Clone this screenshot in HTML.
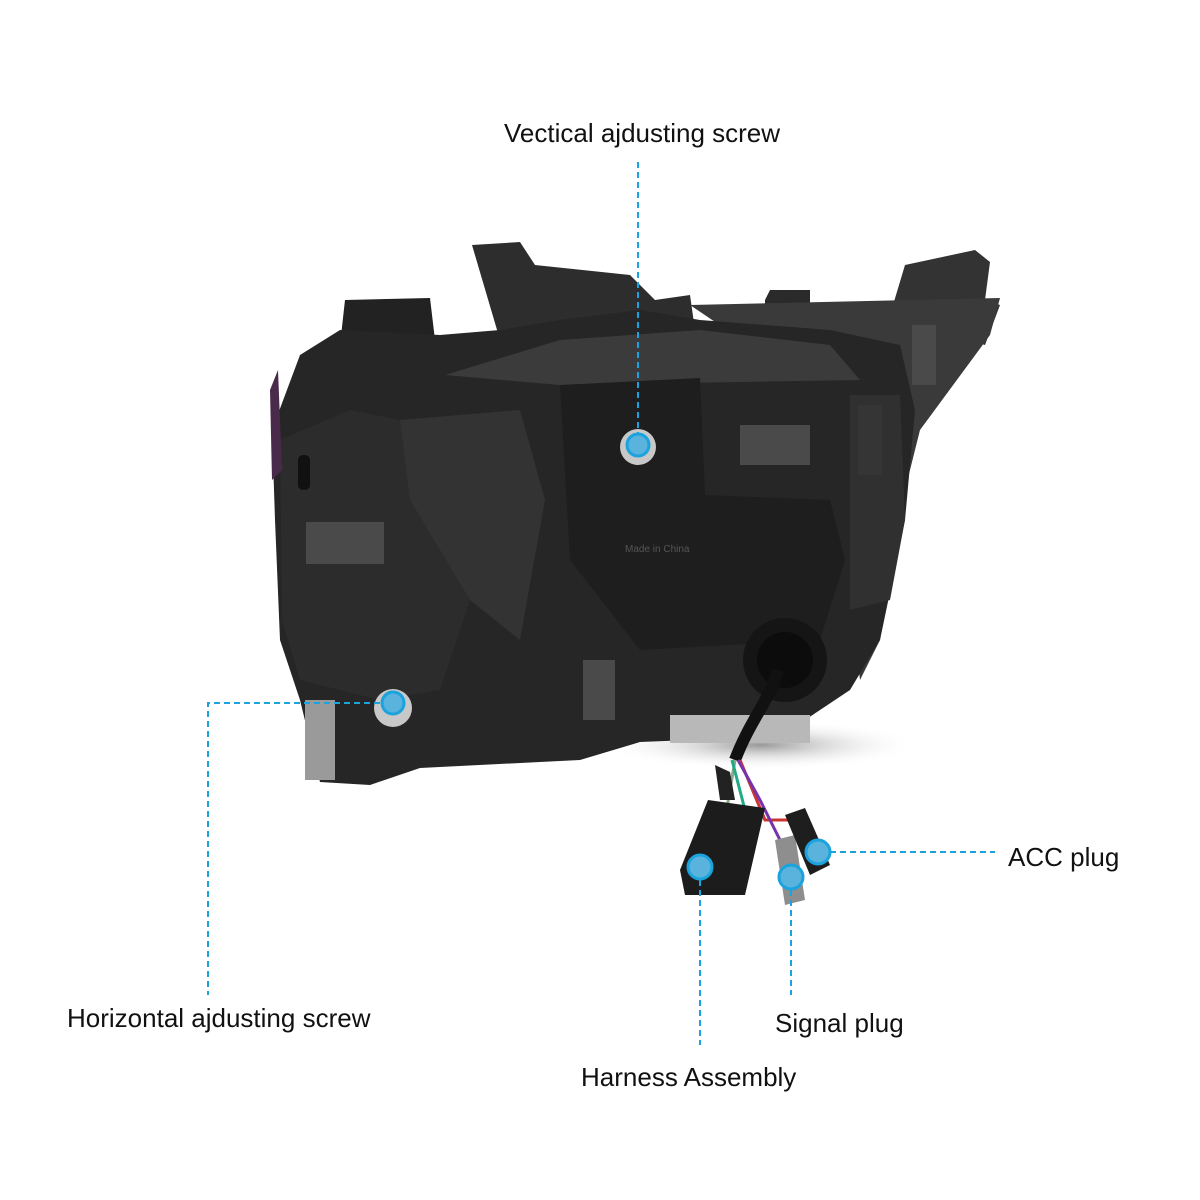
<!DOCTYPE html>
<html><head><meta charset="utf-8"><style>
html,body{margin:0;padding:0;background:#fff}
svg{display:block}
text{font-family:"Liberation Sans",sans-serif;font-size:26px;fill:#111}
</style></head><body>
<svg width="1200" height="1200" viewBox="0 0 1200 1200" xmlns="http://www.w3.org/2000/svg">
<defs>
<radialGradient id="sh" cx="0.5" cy="0.5" r="0.5"><stop offset="0" stop-color="#999"/><stop offset="1" stop-color="#fff" stop-opacity="0"/></radialGradient>
</defs>
<rect width="1200" height="1200" fill="#fff"/>
<ellipse cx="760" cy="745" rx="160" ry="25" fill="url(#sh)"/>
<path d="M472,245 L520,242 L535,265 L630,275 L655,300 L690,295 L695,330 L500,340 Z" fill="#2d2d2d"/>
<path d="M345,300 L430,298 L435,340 L340,345 Z" fill="#222"/>
<path d="M765,300 L770,290 L810,290 L810,320 L765,320 Z" fill="#2a2a2a"/>
<path d="M890,315 L905,265 L975,250 L990,262 L985,300 L1000,305 L985,345 Z" fill="#333"/>
<path d="M690,305 L1000,298 L990,335 L920,430 L895,530 L880,640 L860,680 L850,600 L860,420 Z" fill="#3a3a3a"/>
<path d="M300,355 L340,330 L440,335 L500,330 L560,320 L640,310 L700,320 L830,330 L900,345 L915,410 L905,520 L880,640 L850,690 L805,720 L740,738 L640,742 L580,760 L420,768 L370,785 L320,782 L300,700 L280,640 L275,520 L272,430 Z" fill="#262626"/>
<path d="M445,375 L560,340 L700,330 L830,345 L860,380 L560,385 Z" fill="#3b3b3b"/>
<path d="M560,385 L700,378 L705,495 L830,500 L845,560 L820,640 L640,650 L570,560 Z" fill="#1e1e1e"/>
<path d="M280,440 L350,410 L400,420 L410,500 L470,600 L440,690 L380,700 L300,680 L282,620 Z" fill="#2c2c2c"/>
<path d="M400,420 L520,410 L545,500 L520,640 L470,600 L410,500 Z" fill="#333"/>
<path d="M850,395 L900,395 L905,520 L890,600 L850,610 Z" fill="#303030"/>
<rect x="740" y="425" width="70" height="40" fill="#4a4a4a"/>
<rect x="306" y="522" width="78" height="42" fill="#4a4a4a"/>
<rect x="583" y="660" width="32" height="60" fill="#4a4a4a"/>
<rect x="858" y="405" width="24" height="70" fill="#353535"/>
<rect x="912" y="325" width="24" height="60" fill="#4a4a4a"/>
<rect x="298" y="455" width="12" height="35" rx="5" fill="#111"/>
<path d="M270,390 L278,370 L282,470 L272,480 Z" fill="#4a2a4a"/>
<text x="625" y="552" style="font-size:10px;fill:#555">Made in China</text>
<circle cx="785" cy="660" r="42" fill="#151515"/>
<circle cx="785" cy="660" r="28" fill="#0c0c0c"/>
<rect x="670" y="715" width="140" height="28" fill="#b8b8b8"/>
<rect x="305" y="700" width="30" height="80" fill="#9a9a9a"/>
<circle cx="638" cy="447" r="18" fill="#c8c8c8"/>
<circle cx="393" cy="708" r="19" fill="#c8c8c8"/>
<path d="M778,670 C770,700 750,720 735,760" stroke="#111" stroke-width="12" fill="none"/>
<path d="M735,760 L725,820" stroke="#8a8" stroke-width="3"/>
<path d="M740,760 L765,820 L810,820" stroke="#c33" stroke-width="3" fill="none"/>
<path d="M738,760 L760,800 L790,860" stroke="#73a" stroke-width="3" fill="none"/>
<path d="M732,760 L745,810" stroke="#2a8" stroke-width="3" fill="none"/>
<path d="M715,765 L730,772 L735,800 L720,800 Z" fill="#222"/>
<path d="M708,800 L765,808 L745,895 L685,895 L680,870 Z" fill="#1c1c1c"/>
<path d="M775,840 L795,835 L805,900 L785,905 Z" fill="#8e8e8e"/>
<path d="M785,815 L805,808 L830,865 L810,875 Z" fill="#1e1e1e"/>
<g stroke="#1aa3dc" stroke-width="2" stroke-dasharray="6,4" fill="none">
<line x1="638" y1="162" x2="638" y2="440"/>
<polyline points="380,703 208,703 208,995"/>
<line x1="830" y1="852" x2="995" y2="852"/>
<line x1="791" y1="890" x2="791" y2="995"/>
<line x1="700" y1="880" x2="700" y2="1045"/>
</g>
<g fill="#5ab3dc" stroke="#1aa3dc" stroke-width="3">
<circle cx="638" cy="445" r="11"/>
<circle cx="393" cy="703" r="11"/>
<circle cx="818" cy="852" r="12"/>
<circle cx="791" cy="877" r="12"/>
<circle cx="700" cy="867" r="12"/>
</g>
<text x="504" y="142">Vectical ajdusting screw</text>
<text x="67" y="1027">Horizontal ajdusting screw</text>
<text x="1008" y="866">ACC plug</text>
<text x="775" y="1032">Signal plug</text>
<text x="581" y="1086">Harness Assembly</text>
</svg>
</body></html>
